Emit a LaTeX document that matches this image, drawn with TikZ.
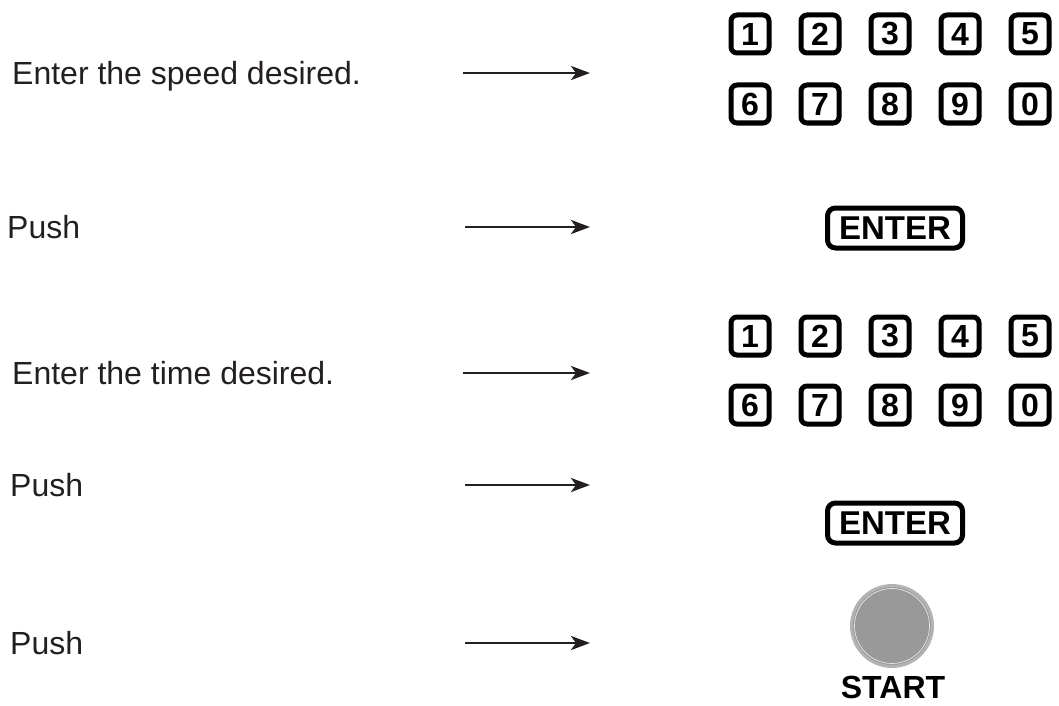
\documentclass[tikz,border=0pt]{standalone}
\usepackage{fontspec}
\setmainfont{Liberation Sans}
\usetikzlibrary{arrows.meta}
\definecolor{txt}{HTML}{231F20}
\definecolor{btn}{HTML}{999999}
\definecolor{ring}{HTML}{B3B3B3}
\definecolor{hairline}{HTML}{E6E6E6}
\tikzset{
  lbl/.style={anchor=base west, inner sep=0pt, text=txt, font=\fontsize{32}{38}\selectfont},
  arr/.style={line width=2.8pt, draw=txt, -{Stealth[length=19pt,width=14pt,inset=5pt]}},
  key/.style={draw=black, line width=5pt, rounded corners=6pt, minimum width=38pt, minimum height=38pt, inner sep=0pt, font=\bfseries\fontsize{32}{32}\selectfont},
  enterkey/.style={draw=black, line width=5pt, rounded corners=8pt, minimum width=135pt, minimum height=40pt, inner sep=0pt, font=\bfseries\fontsize{33}{33}\selectfont},
}
\begin{document}
\begin{tikzpicture}[x=1pt,y=-1pt]
\useasboundingbox (0,0) rectangle (1059,706);
% labels
\node[lbl] (t1) at (12,85) {Enter the speed desired.};
\node[lbl] (t2) at (7,238) {Push};
\node[lbl] (t3) at (12,384) {Enter the time desired.};
\node[lbl] (t4) at (10,496) {Push};
\node[lbl] (t5) at (10,654) {Push};
% arrows
\coordinate (a1s) at (463,73);  \coordinate (a1e) at (590,73);
\coordinate (a2s) at (465,227); \coordinate (a2e) at (590,227);
\coordinate (a3s) at (463,373); \coordinate (a3e) at (590,373);
\coordinate (a4s) at (465,485); \coordinate (a4e) at (590,485);
\coordinate (a5s) at (465,643); \coordinate (a5e) at (590,643);
\draw[arr] (a1s) -- (a1e);
\draw[arr] (a2s) -- (a2e);
\draw[arr] (a3s) -- (a3e);
\draw[arr] (a4s) -- (a4e);
\draw[arr] (a5s) -- (a5e);
% keypads
\foreach \d/\i in {1/0,2/1,3/2,4/3,5/4} {
  \node[key] (pa\d) at ({750+70*\i},34) {\d};
  \node[key] (pc\d) at ({750+70*\i},336) {\d};
}
\foreach \d/\i in {6/0,7/1,8/2,9/3,0/4} {
  \node[key] (pb\d) at ({750+70*\i},104) {\d};
  \node[key] (pd\d) at ({750+70*\i},405) {\d};
}
% enter keys
\node[enterkey] (enter1) at (895,228) {ENTER};
\node[enterkey] (enter2) at (895,523) {ENTER};
% start button
\node[circle, fill=btn, draw=ring, line width=3pt, minimum size=81pt, inner sep=0pt] (start) at (892,626) {};
\draw[hairline, line width=0.7pt] (start.center) circle (37.5pt);
\node[anchor=base, inner sep=0pt, font=\bfseries\fontsize{32}{32}\selectfont] (startlbl) at (893,698) {START};
\end{tikzpicture}
\end{document}
